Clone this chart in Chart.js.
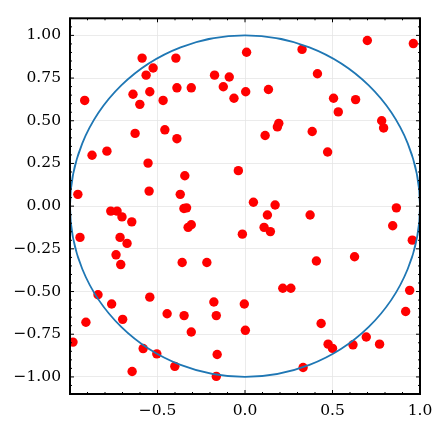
<!DOCTYPE html>
<html>
<head>
<meta charset="utf-8">
<script src="https://cdn.jsdelivr.net/npm/chart.js@4"></script>
<style>
  body { margin: 0; background: #fff; }
  #c { display: block; }
</style>
</head>
<body>
<canvas id="c" width="442" height="430"></canvas>
<script>
// sample points
const xs = [
  -0.588, -0.395, -0.525, -0.565, -0.916, -0.640, -0.544, -0.601, -0.468, -0.389,
  -0.307, -0.174, -0.090, -0.124, -0.063, 0.009, 0.004, -0.628, -0.458, -0.389,
  -0.874, -0.789, -0.554, -0.344, -0.038, -0.955, -0.548, -0.370, -0.767, -0.731,
  -0.349, -0.334,
  0.326, 0.699, 0.962, 0.414, 0.134, 0.506, 0.632, 0.533, 0.193, 0.185,
  0.115, 0.384, 0.781, 0.792, 0.472, 0.048, 0.172, 0.865,
  -0.703, -0.647, -0.325, -0.307, -0.015, -0.943, -0.714, -0.674, -0.737, -0.710,
  -0.359, -0.218, -0.840, -0.762, -0.544, -0.445, -0.348, -0.178, -0.164, -0.004,
  0.002, -0.909, -0.699, -0.307, -0.983, -0.582, -0.504, -0.401, -0.645, -0.159,
  -0.164,
  0.128, 0.372, 0.109, 0.145, 0.844, 0.956, 0.408, 0.626, 0.216, 0.262,
  0.941, 0.918, 0.435, 0.475, 0.500, 0.617, 0.693, 0.769, 0.332
];
const ys = [
  0.867, 0.867, 0.809, 0.767, 0.619, 0.655, 0.670, 0.596, 0.619, 0.693,
  0.693, 0.767, 0.756, 0.699, 0.632, 0.901, 0.670, 0.426, 0.447, 0.395,
  0.298, 0.322, 0.252, 0.178, 0.208, 0.069, 0.088, 0.069, -0.029, -0.029,
  -0.014, -0.010,
  0.918, 0.970, 0.952, 0.775, 0.683, 0.632, 0.624, 0.552, 0.485, 0.464,
  0.414, 0.437, 0.500, 0.458, 0.317, 0.023, 0.007, -0.010,
  -0.063, -0.092, -0.124, -0.109, -0.164, -0.183, -0.183, -0.218, -0.285, -0.342,
  -0.330, -0.330, -0.519, -0.573, -0.533, -0.630, -0.641, -0.561, -0.641, -0.573,
  -0.727, -0.680, -0.663, -0.737, -0.796, -0.834, -0.865, -0.938, -0.968, -0.869,
  -0.997,
  -0.052, -0.052, -0.124, -0.149, -0.115, -0.199, -0.321, -0.296, -0.481, -0.481,
  -0.493, -0.617, -0.687, -0.808, -0.833, -0.812, -0.766, -0.808, -0.945
];

const xTicks = [-0.5, 0.0, 0.5, 1.0];
const yTicks = [-1.0, -0.75, -0.5, -0.25, 0.0, 0.25, 0.5, 0.75, 1.0];

// unit circle
const circleCenter = [0, 0];
const circleRadius = 1;

const points = xs.map((x, i) => ({ x: x, y: ys[i] }));
const minus = s => s.replace('-', '\u2212');

// circle + inward ticks + frame, matplotlib style
const extras = {
  id: 'extras',
  afterDatasetsDraw(chart) {
    const { ctx, chartArea: a, scales: { x, y } } = chart;
    ctx.save();
    ctx.beginPath();
    ctx.rect(a.left, a.top, a.right - a.left, a.bottom - a.top);
    ctx.clip();
    const cx = x.getPixelForValue(circleCenter[0]);
    const cy = y.getPixelForValue(circleCenter[1]);
    const rx = x.getPixelForValue(circleCenter[0] + circleRadius) - cx;
    const ry = cy - y.getPixelForValue(circleCenter[1] + circleRadius);
    ctx.beginPath();
    ctx.ellipse(cx, cy, rx, ry, 0, 0, Math.PI * 2);
    ctx.strokeStyle = '#1f77b4';
    ctx.lineWidth = 1.8;
    ctx.stroke();
    ctx.restore();

    ctx.save();
    ctx.strokeStyle = '#000';
    ctx.lineWidth = 1;
    const tick = (x1, y1, x2, y2) => {
      ctx.beginPath(); ctx.moveTo(x1, y1); ctx.lineTo(x2, y2); ctx.stroke();
    };
    // x ticks: minor every 0.1, major every 0.5
    for (let k = -10; k <= 10; k++) {
      const px = x.getPixelForValue(k / 10);
      const len = k % 5 === 0 ? 4 : 2;
      tick(px, a.bottom, px, a.bottom - len);
      tick(px, a.top, px, a.top + len);
    }
    // y ticks: minor every 0.05, major every 0.25
    for (let k = -22; k <= 22; k++) {
      const py = y.getPixelForValue(k / 20);
      const len = k % 5 === 0 ? 4 : 2;
      tick(a.left, py, a.left + len, py);
      tick(a.right, py, a.right - len, py);
    }
    ctx.lineWidth = 2;
    ctx.strokeRect(a.left, a.top, a.right - a.left, a.bottom - a.top);
    ctx.restore();
  }
};

new Chart(document.getElementById('c'), {
  type: 'scatter',
  data: {
    datasets: [{
      data: points,
      backgroundColor: '#ff0000',
      borderWidth: 0,
      pointRadius: 4.7,
      pointHoverRadius: 4.7
    }]
  },
  options: {
    responsive: false,
    animation: false,
    devicePixelRatio: 1,
    layout: { padding: { top: 10, right: 22, left: 0, bottom: 0 } },
    plugins: { legend: { display: false }, tooltip: { enabled: false } },
    scales: {
      x: {
        type: 'linear',
        min: -1, max: 1,
        afterBuildTicks(s) { s.ticks = xTicks.map(v => ({ value: v })); },
        afterFit(s) { s.height = 36; },
        border: { display: false },
        grid: { color: '#e6e6e6', lineWidth: 0.8, drawTicks: false },
        ticks: {
          padding: 8,
          color: '#000',
          font: { family: 'DejaVu Serif', size: 15.5 },
          maxRotation: 0,
          callback: v => minus(v.toFixed(1))
        }
      },
      y: {
        type: 'linear',
        min: -1.1, max: 1.1,
        afterBuildTicks(s) { s.ticks = yTicks.map(v => ({ value: v })); },
        afterFit(s) { s.width = 70; },
        border: { display: false },
        grid: { color: '#e6e6e6', lineWidth: 0.8, drawTicks: false },
        ticks: {
          padding: 9,
          color: '#000',
          font: { family: 'DejaVu Serif', size: 15.5 },
          callback: v => minus(v.toFixed(2))
        }
      }
    }
  },
  plugins: [extras]
});
</script>
</body>
</html>
